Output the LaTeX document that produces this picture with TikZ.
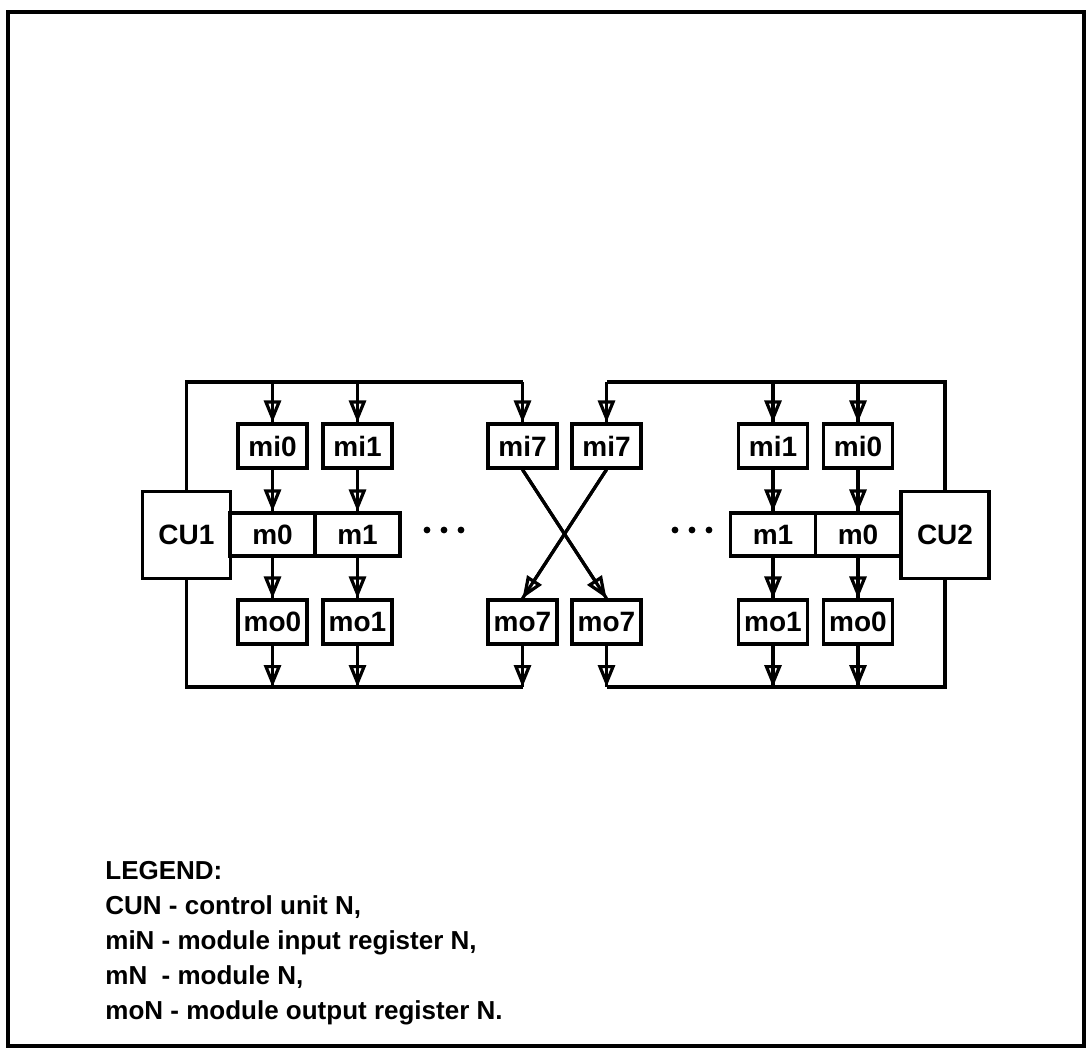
\documentclass[tikz,border=0pt]{standalone}
\usepackage{fontspec}
\setmainfont{Liberation Sans}
\usetikzlibrary{arrows.meta}

\begin{document}
\begin{tikzpicture}[x=0.5pt, y=-0.5pt,
        reg/.style={rectangle, draw, line width=1.6pt, minimum width=34.5pt, minimum height=22pt, inner sep=0pt, font=\fontsize{14}{14}\selectfont\bfseries},
        modul/.style={reg, minimum width=42.5pt, minimum height=21.5pt},
        cu/.style={reg, minimum width=44pt, minimum height=43.5pt},
        bus/.style={line width=1.6pt},
        flow/.style={line width=1.6pt, -{Triangle[open, length=11pt, width=8.5pt]}, postaction={draw, -}},
        legend/.style={align=left, inner sep=0pt, font=\fontsize{13}{17.5}\selectfont\bfseries}
    ]
        \useasboundingbox (0,0) rectangle (1087,1055);
        % Frame
        \draw[line width=1.6pt] (8,12) rectangle (1084,1046);

        % ---------------- LEFT SIDE ----------------
        % Control unit 1
        \node[cu] (cu1) at (186.5, 535) {CU1};

        % Input registers
        \node[reg] (mi0_l) at (272.5, 446) {mi0};
        \node[reg] (mi1_l) at (357.5, 446) {mi1};
        \node[reg] (mi7_l) at (522.5, 446) {mi7};

        % Modules
        \node[modul] (m0_l) at (272.5, 534.5) {m0};
        \node[modul] (m1_l) at (357.5, 534.5) {m1};

        % Output registers
        \node[reg] (mo0_l) at (272.5, 622) {mo0};
        \node[reg] (mo1_l) at (357.5, 622) {mo1};
        \node[reg] (mo7_l) at (522.5, 622) {mo7};

        % Bus ends
        \coordinate (top_l) at (522.5, 382);
        \coordinate (bot_l) at (522.5, 687);

        % ---------------- RIGHT SIDE ----------------
        % Control unit 2
        \node[cu] (cu2) at (945, 535) {CU2};

        % Input registers
        \node[reg] (mi7_r) at (606.5, 446) {mi7};
        \node[reg] (mi1_r) at (773, 446) {mi1};
        \node[reg] (mi0_r) at (858, 446) {mi0};

        % Modules
        \node[modul] (m1_r) at (773, 534.5) {m1};
        \node[modul] (m0_r) at (858, 534.5) {m0};

        % Output registers
        \node[reg] (mo7_r) at (606.5, 622) {mo7};
        \node[reg] (mo1_r) at (773, 622) {mo1};
        \node[reg] (mo0_r) at (858, 622) {mo0};

        % Bus ends
        \coordinate (top_r) at (606.5, 382);
        \coordinate (bot_r) at (606.5, 687);

        % ================= BUSES AND ARROWS =================

        % Left buses
        \draw[bus] (cu1.north) |- (top_l);
        \draw[bus] (cu1.south) |- (bot_l);
        \draw[flow] (mi0_l.north |- top_l) -- (mi0_l);
        \draw[flow] (mi1_l.north |- top_l) -- (mi1_l);
        \draw[flow] (top_l) -- (mi7_l);

        \draw[flow] (mi0_l) -- (m0_l);
        \draw[flow] (mi1_l) -- (m1_l);
        \draw[flow] (m0_l) -- (mo0_l);
        \draw[flow] (m1_l) -- (mo1_l);

        \draw[flow] (mo0_l) -- (mo0_l.south |- bot_l);
        \draw[flow] (mo1_l) -- (mo1_l.south |- bot_l);
        \draw[flow] (mo7_l) -- (bot_l);

        % Right buses
        \draw[bus] (cu2.north) |- (top_r);
        \draw[bus] (cu2.south) |- (bot_r);
        \draw[flow] (top_r) -- (mi7_r);
        \draw[flow] (mi1_r.north |- top_r) -- (mi1_r);
        \draw[flow] (mi0_r.north |- top_r) -- (mi0_r);

        \draw[flow] (mi1_r) -- (m1_r);
        \draw[flow] (mi0_r) -- (m0_r);
        \draw[flow] (m1_r) -- (mo1_r);
        \draw[flow] (m0_r) -- (mo0_r);

        \draw[flow] (mo7_r) -- (bot_r);
        \draw[flow] (mo1_r) -- (mo1_r.south |- bot_r);
        \draw[flow] (mo0_r) -- (mo0_r.south |- bot_r);

        % Crossed links between the two sides
        \draw[flow] (mi7_l.south) -- (mo7_r.north);
        \draw[flow] (mi7_r.south) -- (mo7_l.north);

        % Ellipses
        \foreach \x in {427, 444, 461} \fill (\x, 530) circle (3.4);
        \foreach \x in {675, 692, 709} \fill (\x, 530) circle (3.4);

        % Legend
        \node[legend, anchor=north west] (legend) at (105, 861) {LEGEND:\\CUN - control unit N,\\miN - module input register N,\\mN\ \ - module N,\\moN - module output register N.};

    \end{tikzpicture}
\end{document}
